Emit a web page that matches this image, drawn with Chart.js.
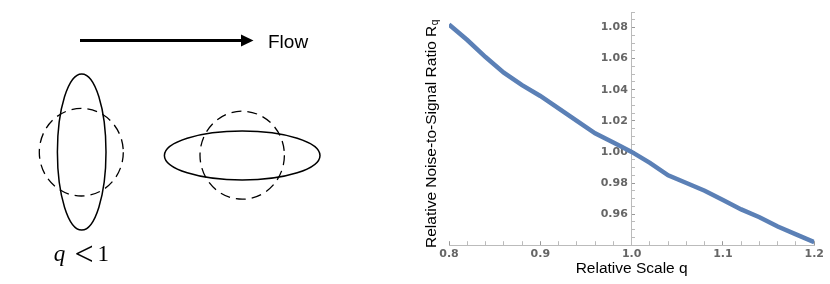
<!DOCTYPE html>
<html>
<head>
<meta charset="utf-8">
<script src="https://cdn.jsdelivr.net/npm/chart.js@4.4.0/dist/chart.umd.min.js"></script>
<style>
  html, body { margin: 0; padding: 0; background: #fff; }
</style>
</head>
<body>
<canvas id="myChart" width="830" height="284"></canvas>
<script>
const ctx = document.getElementById("myChart");

/* values */
const qValues = [0.80, 0.82, 0.84, 0.86, 0.88, 0.90, 0.92, 0.94, 0.96, 0.98, 1.00,
                 1.02, 1.04, 1.06, 1.08, 1.10, 1.12, 1.14, 1.16, 1.18, 1.20];
const ratioValues = [1.082, 1.072, 1.061, 1.051, 1.043, 1.036, 1.028, 1.020, 1.012, 1.006, 1.000,
                     0.993, 0.985, 0.980, 0.975, 0.969, 0.963, 0.958, 0.952, 0.947, 0.942];
const xTickLabels = [0.8, 0.9, 1.0, 1.1, 1.2];
const yTickLabels = [0.96, 0.98, 1.00, 1.02, 1.04, 1.06, 1.08];

function isLabel(list, v) {
  return list.some((t) => Math.abs(t - v) < 1e-6);
}

const tickFont = { family: "DejaVu Sans", size: 11, weight: "bold" };

/* left side sketch + rotated y title */
const sketch = {
  id: "sketch",
  afterDraw(chart) {
    const c = chart.ctx;
    c.save();
    c.strokeStyle = "#000";
    c.fillStyle = "#000";

    // flow arrow
    c.lineWidth = 3;
    c.beginPath();
    c.moveTo(80, 40.5);
    c.lineTo(243, 40.5);
    c.stroke();
    c.beginPath();
    c.moveTo(241, 34.5);
    c.lineTo(253.5, 40.5);
    c.lineTo(241, 46.5);
    c.closePath();
    c.fill();
    c.font = "19px 'Liberation Sans'";
    c.textBaseline = "alphabetic";
    c.fillText("Flow", 268, 47.5);

    // solid ellipses
    c.lineWidth = 1.5;
    c.beginPath();
    c.ellipse(81.7, 152, 24.3, 78, 0, 0, Math.PI * 2);
    c.stroke();
    c.beginPath();
    c.ellipse(242.2, 155.5, 77.8, 24.5, 0, 0, Math.PI * 2);
    c.stroke();

    // dashed circles
    c.lineWidth = 1.3;
    c.setLineDash([10, 6]);
    c.beginPath();
    c.ellipse(81.3, 152.2, 42, 43.8, 0, 0, Math.PI * 2);
    c.stroke();
    c.beginPath();
    c.ellipse(242.2, 155.2, 42.2, 44, 0, 0, Math.PI * 2);
    c.stroke();
    c.setLineDash([]);

    // q < 1
    c.textAlign = "center";
    c.font = "italic 23px 'Liberation Serif'";
    c.fillText("q", 59.5, 260.5);
    c.font = "34px 'Liberation Serif'";
    c.fillText("<", 84, 265);
    c.font = "23px 'Liberation Serif'";
    c.fillText("1", 103.3, 260.5);

    // y title with subscript
    c.translate(435.5, 248);
    c.rotate(-Math.PI / 2);
    c.textAlign = "left";
    c.font = "15.5px 'Liberation Sans'";
    const main = "Relative Noise-to-Signal Ratio R";
    c.fillText(main, 0, 0);
    const w = c.measureText(main).width;
    c.font = "10px 'Liberation Sans'";
    c.fillText("q", w + 0.5, 2.5);
    c.restore();
  },
};

new Chart(ctx, {
  type: "line",
  data: {
    datasets: [
      {
        label: "R_q",
        data: qValues.map((q, i) => ({ x: q, y: ratioValues[i] })),
        borderColor: "#5b80b6",
        borderWidth: 4.5,
        pointRadius: 0,
        tension: 0,
        fill: false,
      },
    ],
  },
  options: {
    responsive: false,
    animation: false,
    layout: { padding: { left: 449, right: 12, top: 12, bottom: 0 } },
    plugins: { legend: { display: false }, tooltip: { enabled: false } },
    scales: {
      x: {
        type: "linear",
        position: "bottom",
        min: 0.8,
        max: 1.2,
        grid: {
          drawOnChartArea: false,
          tickLength: -4,
          tickColor: (c) => (isLabel(xTickLabels, c.tick.value) ? "#999" : "#bbb"),
        },
        border: { color: "#bbb" },
        ticks: {
          stepSize: 0.02,
          autoSkip: false,
          maxRotation: 0,
          padding: 6,
          color: "#666",
          font: tickFont,
          callback: (v) => (isLabel(xTickLabels, v) ? v.toFixed(1) : ""),
        },
        title: {
          display: true,
          text: "Relative Scale q",
          color: "#000",
          font: { family: "Liberation Sans", size: 15.5 },
          padding: { top: -7, bottom: 6 },
        },
      },
      y: {
        type: "linear",
        position: { x: 1.0 },
        min: 0.94,
        max: 1.09,
        grid: {
          drawOnChartArea: false,
          tickLength: -4,
          tickColor: (c) => (isLabel(yTickLabels, c.tick.value) ? "#999" : "#bbb"),
        },
        border: { color: "#bbb" },
        ticks: {
          stepSize: 0.005,
          autoSkip: false,
          padding: 4,
          color: "#666",
          font: tickFont,
          callback: (v) => (isLabel(yTickLabels, v) ? v.toFixed(2) + " " : ""),
        },
      },
    },
  },
  plugins: [sketch],
});
</script>
</body>
</html>
